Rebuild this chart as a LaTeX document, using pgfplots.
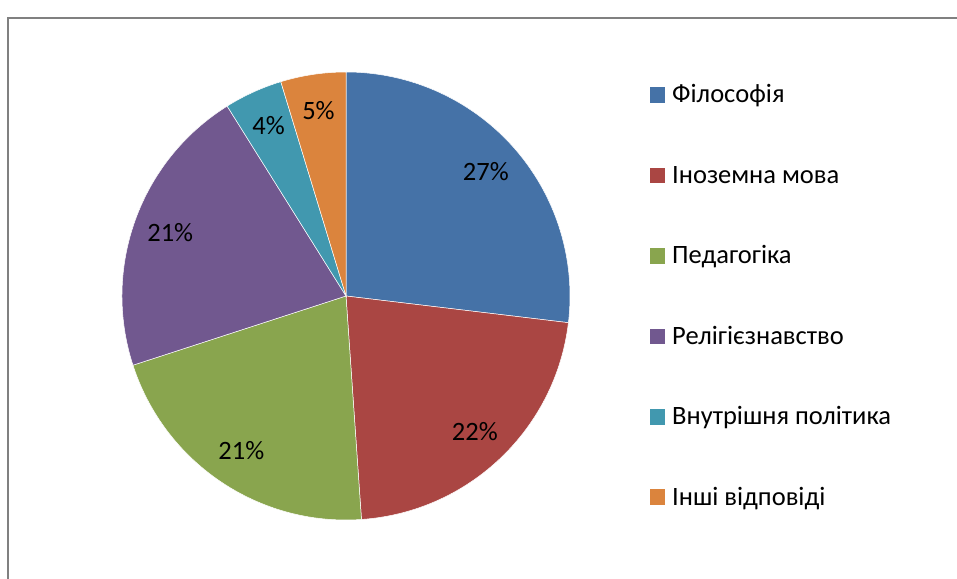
\documentclass[border=0pt]{standalone}
\usepackage{fontspec}
\setmainfont{Carlito}
\usepackage{pgfplots}
\usepackage{pgfplotstable}
\pgfplotsset{compat=1.18}

\definecolor{c1}{HTML}{4572A7}
\definecolor{c2}{HTML}{AA4643}
\definecolor{c3}{HTML}{89A54E}
\definecolor{c4}{HTML}{71588F}
\definecolor{c5}{HTML}{4198AF}
\definecolor{c6}{HTML}{DB843D}

% share of answers, clockwise from 12 o'clock
\pgfplotstableread[col sep=comma]{
name,value,col
Філософія,26.9,c1
Іноземна мова,22.0,c2
Педагогіка,21.1,c3
Релігієзнавство,21.1,c4
Внутрішня політика,4.2,c5
Інші відповіді,4.7,c6
}\piedata

\newcommand\chartfont{\fontsize{26.6}{31}\selectfont}

\begin{document}
\begin{tikzpicture}
\useasboundingbox (0,0) rectangle (957bp,579bp);
\begin{axis}[
    x=1bp, y=1bp,
    xmin=0, xmax=957, ymin=-579, ymax=0,
    hide axis, clip=false,
    at={(0,0)}, anchor=south west,
  ]
  \pgfplotstablegetrowsof{\piedata}
  \pgfmathtruncatemacro\lastrow{\pgfplotsretval-1}
  % frame of the chart area
  \draw[black!50, line width=1.6bp] (axis cs:8,-579) -- (axis cs:8,-18) -- (axis cs:957,-18);
  \def\angA{90}
  \pgfplotsforeachungrouped \i in {0,...,\lastrow}{
    \pgfplotstablegetelem{\i}{value}\of\piedata \let\val\pgfplotsretval
    \pgfplotstablegetelem{\i}{col}\of\piedata \let\col\pgfplotsretval
    \pgfplotstablegetelem{\i}{name}\of\piedata \let\nm\pgfplotsretval
    \pgfmathsetmacro\angB{\angA-3.6*\val}
    \pgfmathsetmacro\midang{(\angA+\angB)/2}
    \pgfmathsetmacro\lx{346+187*cos(\midang)}
    \pgfmathsetmacro\ly{-296+187*sin(\midang)}
    \pgfmathtruncatemacro\pct{round(\val)}
    \pgfmathsetmacro\by{-103-80.4*\i}
    \pgfmathsetmacro\sy{\by+15.5}
    \edef\temp{%
      \noexpand\fill[\col, draw=white, line width=0.5bp]
        (axis cs:346,-296) -- ++(\angA:224bp)
        arc[start angle=\angA, end angle=\angB, radius=224bp] -- cycle;
      \noexpand\node[font=\noexpand\chartfont, inner sep=0pt]
        at (axis cs:\lx,\ly) {\pct\noexpand\%};
      \noexpand\fill[\col] (axis cs:650,\by) rectangle (axis cs:665,\sy);
      \noexpand\node[font=\noexpand\chartfont, inner sep=0pt, anchor=base west]
        at (axis cs:672,\by) {\nm};
    }
    \temp
    \let\angA\angB
  }
\end{axis}
\end{tikzpicture}
\end{document}
